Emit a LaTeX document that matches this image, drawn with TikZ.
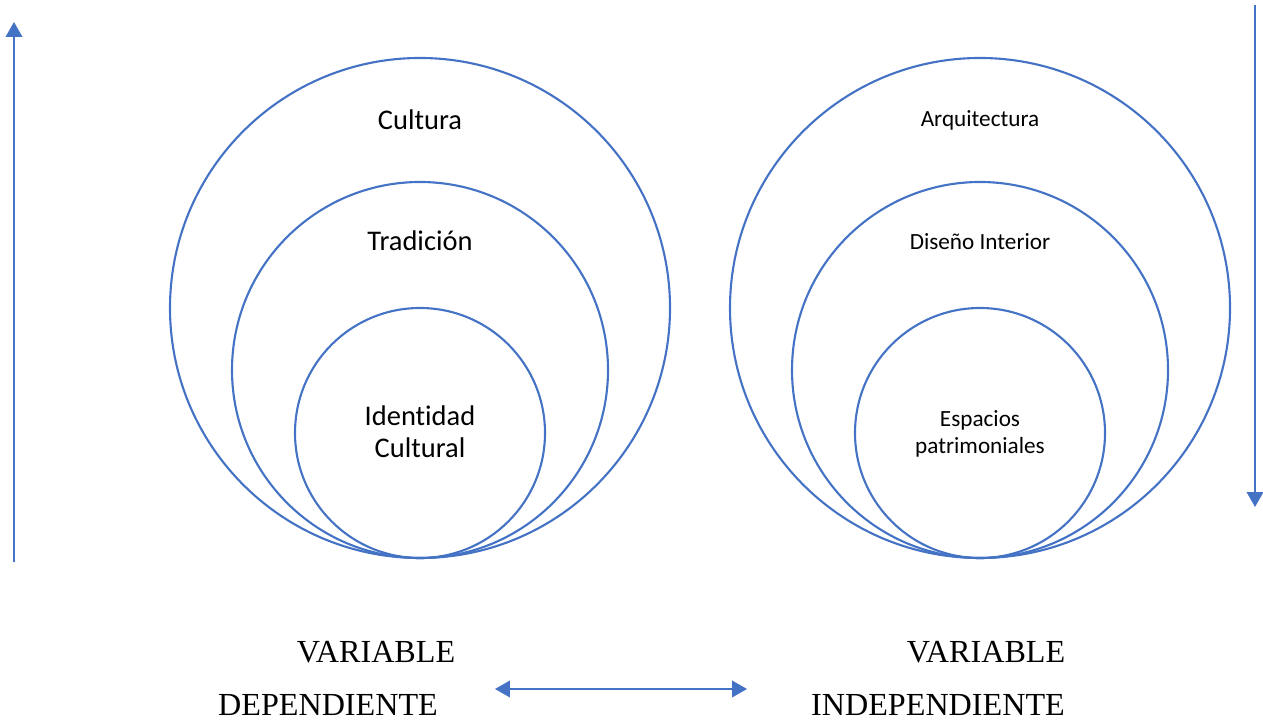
\documentclass[tikz,border=0pt]{standalone}
\usepackage{fontspec}
\setmainfont{Liberation Serif}
\newfontfamily\calibri[Ligatures=NoCommon]{Carlito}
\usetikzlibrary{arrows.meta}
\definecolor{ringblue}{HTML}{4472C4}

\begin{document}
\begin{tikzpicture}[x=0.02cm,y=0.02cm,
  ring/.style={draw=ringblue,line width=1.2pt},
  flecha/.style={draw=ringblue,line width=0.75pt,-{Triangle[width=9.5pt,length=8.5pt]}},
  bigtag/.style={font=\calibri\fontsize{16.2}{18}\selectfont,align=center},
  smalltag/.style={font=\calibri\fontsize{13.2}{15.3}\selectfont,align=center},
  vartag/.style={font=\fontsize{18.3}{20}\selectfont}]
\useasboundingbox (0,0) rectangle (1263,723);
% variable dependiente
\draw[ring] (420,415) circle (250);
\draw[ring] (420,353) circle (188);
\draw[ring] (420,290) circle (125);
\node[bigtag] (cultura) at (420,603) {Cultura};
\node[bigtag] (tradicion) at (420,482) {Tradición};
\node[bigtag] (identidad) at (420,291) {Identidad\\Cultural};
% variable independiente
\draw[ring] (980,415) circle (250);
\draw[ring] (980,353) circle (188);
\draw[ring] (980,290) circle (125);
\node[smalltag] (arquitectura) at (980,603) {Arquitectura};
\node[smalltag] (diseno) at (980,481) {Diseño Interior};
\node[smalltag] (espacios) at (980,289.5) {Espacios\\patrimoniales};
% etiquetas
\node[vartag] (vardep) at (376,71) {VARIABLE};
\node[vartag] (dep) at (328,18) {DEPENDIENTE};
\node[vartag] (varindep) at (986,71) {VARIABLE};
\node[vartag] (indep) at (938,18) {INDEPENDIENTE};
% flechas
\coordinate (subeA) at (14,161);
\coordinate (subeB) at (14,701);
\coordinate (bajaA) at (1255,718);
\coordinate (bajaB) at (1255,216);
\coordinate (relA) at (495,34);
\coordinate (relB) at (747,34);
\draw[flecha] (subeA) -- (subeB);
\draw[flecha] (bajaA) -- (bajaB);
\draw[flecha,{Triangle[width=9.5pt,length=8.5pt]}-{Triangle[width=9.5pt,length=8.5pt]}] (relA) -- (relB);
\end{tikzpicture}
\end{document}
